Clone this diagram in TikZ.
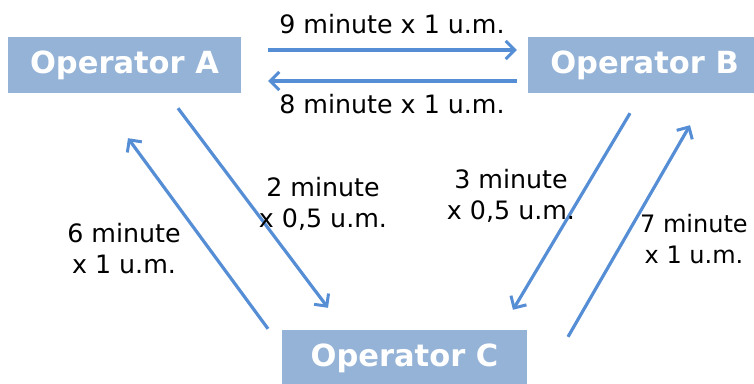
\documentclass[tikz,border=0pt]{standalone}
\usepackage{fontspec}
\setmainfont{DejaVu Sans}
\usetikzlibrary{arrows.meta}
\definecolor{boxblue}{RGB}{149,179,215}
\definecolor{arrblue}{RGB}{85,142,213}
\tikzset{
  opbox/.style={fill=boxblue, draw=none, minimum height=56pt, text=white,
    font=\fontsize{30.5}{36}\selectfont\bfseries, inner sep=0pt},
  arr/.style={draw=arrblue, line width=3.2pt, -{Straight Barb[length=9pt,width=18pt,line width=3pt]}},
  lbl/.style={font=\fontsize{25.3}{31}\selectfont, align=center, inner sep=0pt, text=black}
}
\begin{document}
\begin{tikzpicture}[x=1pt,y=-1pt]
\useasboundingbox (0,0) rectangle (754,383);
\node[opbox, minimum width=233pt] (A) at (124.5,65) {Operator A};
\node[opbox, minimum width=233pt] (B) at (644.5,65) {Operator B};
\node[opbox, minimum width=245pt] (C) at (404.5,358) {Operator C};

\draw[arr] ([xshift=27pt,yshift=15pt]A.east) -- ([xshift=-11pt,yshift=15pt]B.west);
\draw[arr] ([xshift=-11pt,yshift=-16pt]B.west) -- ([xshift=27pt,yshift=-16pt]A.east);
\draw[arr] ([xshift=53.5pt,yshift=-15pt]A.south) -- ([xshift=-76.5pt,yshift=22pt]C.north);
\draw[arr] ([xshift=-136.5pt,yshift=1pt]C.north) -- ([xshift=3.5pt,yshift=-45pt]A.south);
\draw[arr] ([xshift=-14.5pt,yshift=-20pt]B.south) -- ([xshift=108.5pt,yshift=20pt]C.north);
\draw[arr] ([xshift=163.5pt,yshift=-7pt]C.north) -- ([xshift=45.5pt,yshift=-32pt]B.south);

\node[lbl] (l9) at (392,24) {9 minute x 1 u.m.};
\node[lbl] (l8) at (392,104) {8 minute x 1 u.m.};
\node[lbl] (l2) at (323,204) {2 minute\\x 0,5 u.m.};
\node[lbl] (l6) at (124,249) {6 minute\\x 1 u.m.};
\node[lbl] (l3) at (511,196) {3 minute\\x 0,5 u.m.};
\node[lbl, font=\fontsize{24}{31}\selectfont] (l7) at (694,239) {7 minute\\x 1 u.m.};
\end{tikzpicture}
\end{document}
